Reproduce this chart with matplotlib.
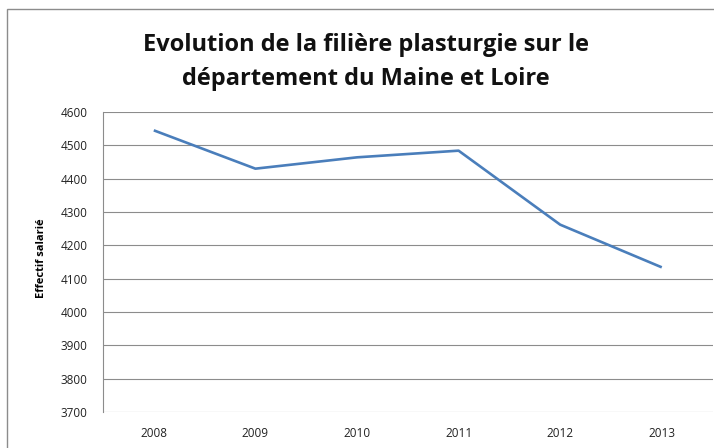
import matplotlib
matplotlib.use('Agg')
import matplotlib.pyplot as plt
from matplotlib.patches import Rectangle

years = ['2008', '2009', '2010', '2011', '2012', '2013']
effectif = [4545, 4430, 4464, 4484, 4262, 4134]
y_ticks = [3700, 3800, 3900, 4000, 4100, 4200, 4300, 4400, 4500, 4600]

plt.rcParams['font.family'] = ['Open Sans', 'DejaVu Sans']

fig = plt.figure(figsize=(7.14, 4.48), dpi=100)
fig.patches.append(Rectangle((7 / 714, -0.01), 1.0, 1 - 9 / 448 + 0.01,
                             transform=fig.transFigure, fill=False,
                             edgecolor='#8c8c8c', linewidth=1.0))

ax = fig.add_axes([103 / 714, 1 - 412 / 448, 1 - 103 / 714 - 0.002, 300 / 448])
x = list(range(len(years)))
ax.plot(x, effectif, color='#4a7ebb', linewidth=1.9, solid_capstyle='butt')

ax.set_xlim(-0.5, len(years) - 0.5)
ax.set_ylim(3700, 4600)
ax.set_yticks(y_ticks)
ax.set_yticklabels([str(v) for v in y_ticks])
ax.set_xticks(x)
ax.set_xticklabels(years)
ax.tick_params(axis='both', length=0, labelsize=8.5, colors='#222222')
ax.tick_params(axis='y', pad=11)
ax.tick_params(axis='x', pad=11)
ax.grid(axis='y', color='#8c8c8c', linewidth=0.8)
ax.set_axisbelow(True)
for s in ['top', 'right', 'bottom']:
    ax.spines[s].set_visible(False)
ax.spines['left'].set_color('#8c8c8c')
ax.spines['left'].set_linewidth(0.8)

fig.text(41 / 714, 1 - 258 / 448, 'Effectif salarié', rotation=90,
         ha='center', va='center', fontsize=8, fontweight='bold')

fig.text(366 / 714, 1 - 62 / 448,
         'Evolution de la filière plasturgie sur le\ndépartement du Maine et Loire',
         ha='center', va='center', fontsize=17, fontweight='bold',
         linespacing=1.6, color='#111111')

fig.savefig('out.png', dpi=100)
